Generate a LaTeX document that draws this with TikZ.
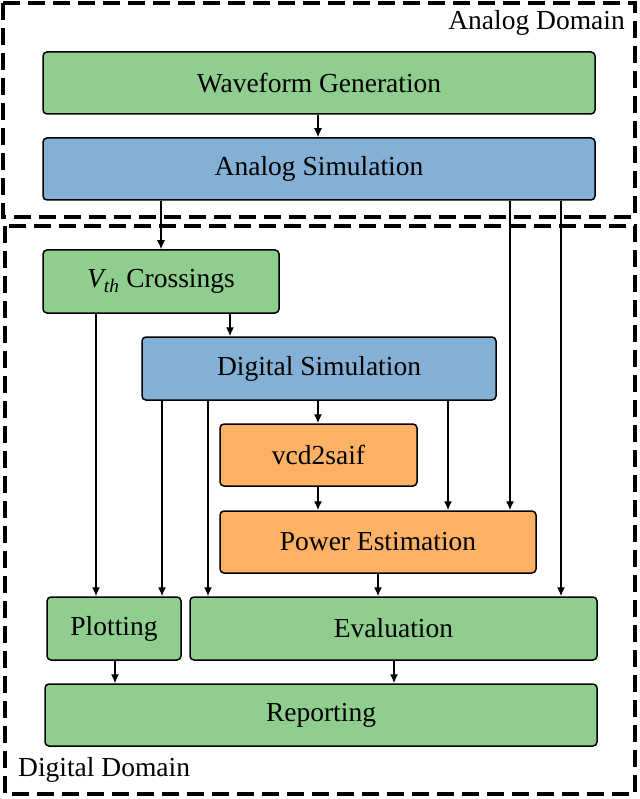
\documentclass[tikz,border=0pt]{standalone}
\usepackage{fontspec}
\setmainfont{Liberation Serif}
\usetikzlibrary{arrows.meta}
\definecolor{cgreen}{HTML}{8FCE8F}
\definecolor{cblue}{HTML}{85B0D6}
\definecolor{corange}{HTML}{FDB164}
\tikzset{
  blk/.style={draw=black, line width=1.5pt, rounded corners=4pt, inner sep=0pt, font=\fontsize{27.5}{30}\selectfont},
  gbox/.style={blk, fill=cgreen},
  bbox/.style={blk, fill=cblue},
  obox/.style={blk, fill=corange},
  dom/.style={draw=black, line width=3.3pt, dash pattern=on 17pt off 8pt},
  arr/.style={line width=1.4pt, -{Latex[length=9pt,width=8pt]}},
  lbl/.style={font=\fontsize{27.5}{30}\selectfont, inner sep=0pt}
}
\begin{document}
\begin{tikzpicture}[x=1pt,y=-1pt]
\useasboundingbox (0,0) rectangle (639,799);
% domains
\draw[dom] (3,3) rectangle (635,217);
\draw[dom] (5,226) rectangle (635,794);
\node[lbl, anchor=east] (alab) at (625,23) {Analog Domain};
\node[lbl, anchor=west] (dlab) at (18,770) {Digital Domain};
% boxes
\node[gbox, minimum width=552pt, minimum height=62pt] (wg) at (319,83) {Waveform Generation};
\node[bbox, minimum width=552pt, minimum height=62pt] (as) at (319,169) {Analog Simulation};
\node[gbox, minimum width=236pt, minimum height=63pt] (vth) at (161,281.5) {\textit{V\textsubscript{th}} Crossings};
\node[bbox, minimum width=354pt, minimum height=63pt] (ds) at (319,368.5) {Digital Simulation};
\node[obox, minimum width=197pt, minimum height=62pt] (vcd) at (318.5,455) {vcd2saif};
\node[obox, minimum width=316pt, minimum height=62pt] (pe) at (378,542) {Power Estimation};
\node[gbox, minimum width=134pt, minimum height=63pt] (pl) at (114,628.5) {Plotting};
\node[gbox, minimum width=407pt, minimum height=63pt] (ev) at (393.5,628.5) {Evaluation};
\node[gbox, minimum width=552pt, minimum height=62pt] (rp) at (321,715) {Reporting};
% arrows
\draw[arr] (wg.south -| 318,0) -- (as.north -| 318,0);
\draw[arr] (as.south -| 161,0) -- (vth.north -| 161,0);
\draw[arr] (as.south -| 510,0) -- (pe.north -| 510,0);
\draw[arr] (as.south -| 561,0) -- (ev.north -| 561,0);
\draw[arr] (vth.south -| 230,0) -- (ds.north -| 230,0);
\draw[arr] (vth.south -| 96,0) -- (pl.north -| 96,0);
\draw[arr] (ds.south -| 162,0) -- (pl.north -| 162,0);
\draw[arr] (ds.south -| 208,0) -- (ev.north -| 208,0);
\draw[arr] (ds.south -| 318,0) -- (vcd.north -| 318,0);
\draw[arr] (ds.south -| 448,0) -- (pe.north -| 448,0);
\draw[arr] (vcd.south -| 318,0) -- (pe.north -| 318,0);
\draw[arr] (pe.south -| 378,0) -- (ev.north -| 378,0);
\draw[arr] (pl.south -| 115,0) -- (rp.north -| 115,0);
\draw[arr] (ev.south -| 394,0) -- (rp.north -| 394,0);
\end{tikzpicture}
\end{document}
